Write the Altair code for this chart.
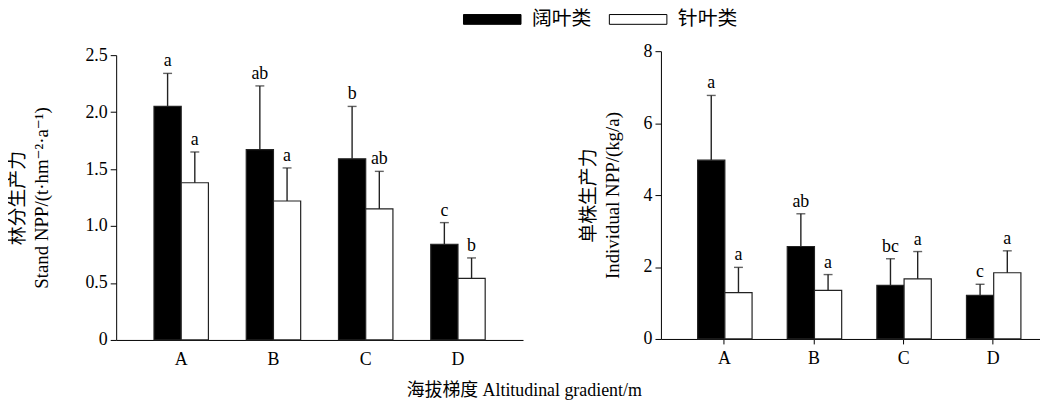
import altair as alt
import pandas as pd

groups = ["A", "B", "C", "D"]
types = ["阔叶类", "针叶类"]

# Left panel: stand NPP (t·hm-2·a-1)
stand_broad = [2.05, 1.67, 1.59, 0.84]
stand_broad_err = [0.29, 0.56, 0.46, 0.19]
stand_conifer = [1.38, 1.22, 1.15, 0.54]
stand_conifer_err = [0.27, 0.29, 0.33, 0.18]
stand_broad_sig = ["a", "ab", "b", "c"]
stand_conifer_sig = ["a", "a", "ab", "b"]

# Right panel: individual NPP (kg/a)
ind_broad = [4.97, 2.57, 1.49, 1.21]
ind_broad_err = [1.80, 0.91, 0.74, 0.31]
ind_conifer = [1.29, 1.35, 1.67, 1.84]
ind_conifer_err = [0.70, 0.44, 0.76, 0.61]
ind_broad_sig = ["a", "ab", "bc", "c"]
ind_conifer_sig = ["a", "a", "a", "a"]

stand_ticks = [0, 0.5, 1.0, 1.5, 2.0, 2.5]
ind_ticks = [0, 2, 4, 6, 8]

SERIF = "Liberation Serif, DejaVu Serif, Noto Sans CJK SC"


def make_df(b, be, bs, c, ce, cs):
    rows = []
    for i, g in enumerate(groups):
        rows.append(dict(group=g, type=types[0], value=b[i], top=b[i] + be[i], sig=bs[i]))
        rows.append(dict(group=g, type=types[1], value=c[i], top=c[i] + ce[i], sig=cs[i]))
    return pd.DataFrame(rows)


legend = alt.Legend(
    title=None, orient="none", legendX=369, legendY=-42, direction="horizontal",
    symbolType="M-4,-0.68H4V0.68H-4Z", symbolSize=210,
    symbolStrokeColor="black", symbolStrokeWidth=1,
    labelFont=SERIF, labelFontSize=20, labelColor="black",
    labelOffset=30, columnPadding=16,
)


def panel(df, domain, ticks, title, width, height, yrange, show_ticks, pad_inner,
          pad_outer, align, title_pad, label_expr):
    xscale = alt.Scale(paddingInner=pad_inner, paddingOuter=pad_outer, align=align)
    xaxis = alt.Axis(title=None, labelAngle=0, ticks=show_ticks, tickSize=5,
                     tickColor="black", domainColor="black", labelFont=SERIF,
                     labelFontSize=18, labelColor="black",
                     labelPadding=6 if show_ticks else 11)
    x = alt.X("group:N", scale=xscale, sort=groups, axis=xaxis)
    xo = alt.XOffset("type:N", sort=types, scale=alt.Scale(paddingInner=0, paddingOuter=0))
    yaxis_kw = dict(values=ticks, title=title, grid=False, tickSize=6,
                    tickColor="black", domainColor="black", labelFont=SERIF,
                    labelFontSize=18, labelColor="black", labelPadding=3,
                    titleFont=SERIF, titleFontSize=19, titleFontWeight="normal",
                    titleColor="black", titleLineHeight=24, titlePadding=title_pad)
    if label_expr:
        yaxis_kw["labelExpr"] = label_expr
    y = alt.Y("value:Q",
              scale=alt.Scale(domain=domain, nice=False, zero=True, range=yrange),
              axis=alt.Axis(**yaxis_kw))
    base = alt.Chart(df)
    bars = base.mark_bar(stroke="#222", strokeWidth=1.2).encode(
        x=x, xOffset=xo, y=y,
        fill=alt.Fill("type:N", scale=alt.Scale(domain=types, range=["black", "white"]),
                      legend=legend),
    )
    rules = base.mark_rule(color="#222", strokeWidth=1.4).encode(
        x=x, xOffset=xo, y="value:Q", y2="top:Q")
    caps = base.mark_tick(color="#222", thickness=1.4, size=9, orient="horizontal").encode(
        x=x, xOffset=xo, y="top:Q")
    text = base.mark_text(baseline="bottom", dy=-3, font=SERIF, fontSize=18,
                          color="black").encode(x=x, xOffset=xo, y="top:Q", text="sig:N")
    return alt.layer(bars, rules, caps, text).properties(width=width, height=height)


left_df = make_df(stand_broad, stand_broad_err, stand_broad_sig,
                  stand_conifer, stand_conifer_err, stand_conifer_sig)
right_df = make_df(ind_broad, ind_broad_err, ind_broad_sig,
                   ind_conifer, ind_conifer_err, ind_conifer_sig)

left = panel(left_df, [0, 2.5], stand_ticks,
             ["林分生产力", "Stand NPP/(t·hm⁻²·a⁻¹)"], 410, 291, [291, 4], False,
             0.41, 0.41, 0.5, 34,
             "datum.value == 0 ? '0' : format(datum.value, '.1f')")
right = panel(right_df, [0, 8], ind_ticks,
              ["单株生产力", "Individual NPP/(kg/a)"], 382, 290, [290, 0], True,
              0.402, 0.316, 0.648, 21, None)

chart = alt.hconcat(left, right, spacing=57).properties(
    padding={"left": 0, "top": 0, "right": 0, "bottom": 0},
    title=alt.TitleParams("海拔梯度 Altitudinal gradient/m", orient="bottom",
                          anchor="middle", font=SERIF, fontSize=18,
                          fontWeight="normal", color="black", offset=13),
).configure_view(stroke=None)

chart.save("out.html", embed_options={"renderer": "svg", "actions": False})
